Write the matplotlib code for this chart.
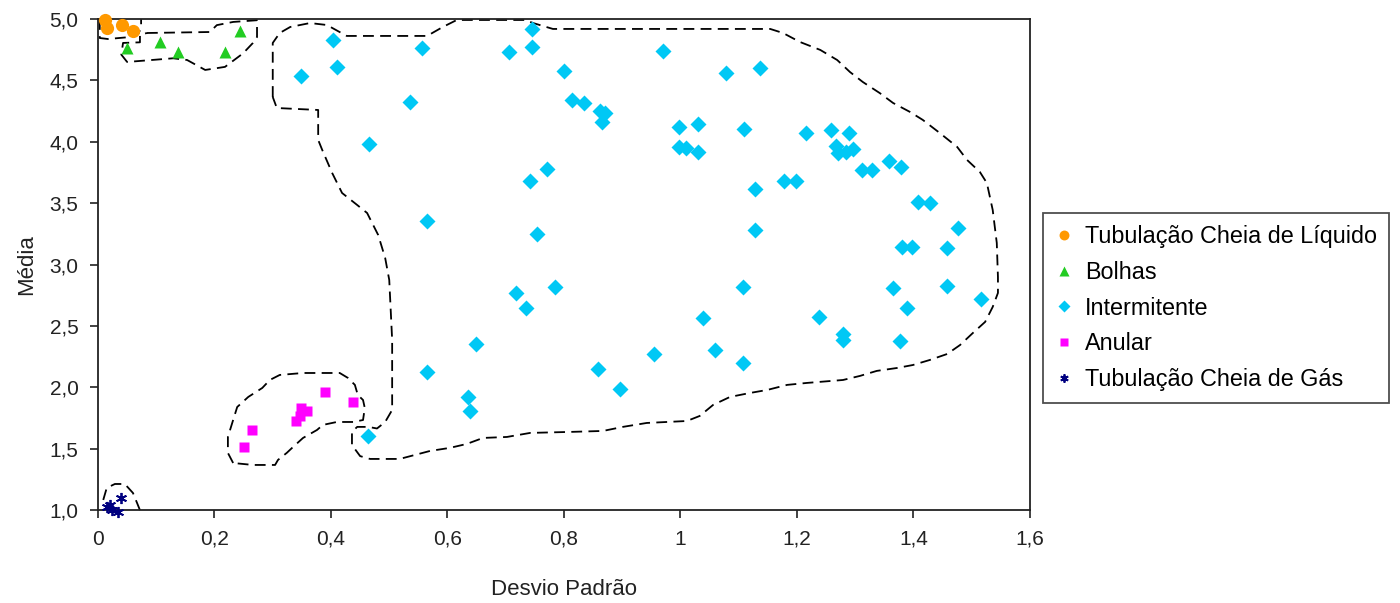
import matplotlib
matplotlib.use("Agg")
import matplotlib.pyplot as plt

plt.rcParams['font.family'] = ['Liberation Sans', 'DejaVu Sans']

# ---------------------------------------------------------------------
# data (desvio padrao, media)
liq_x = [0.012, 0.015, 0.041, 0.060]
liq_y = [4.992, 4.927, 4.951, 4.902]

bolhas_x = [0.050, 0.106, 0.137, 0.218, 0.244]
bolhas_y = [4.764, 4.813, 4.731, 4.731, 4.902]

inter_x = [0.745, 0.745, 0.706, 0.403, 0.410, 0.348, 0.556, 0.536, 0.465, 0.565,
           0.565, 0.800, 0.814, 0.834, 0.862, 0.870, 0.865, 0.970, 1.078, 1.136,
           0.997, 1.030, 0.997, 1.009, 1.030, 1.109, 1.215, 1.258, 1.289, 1.267,
           1.270, 1.284, 1.296, 1.312, 1.329, 1.358, 1.379, 1.178, 1.198, 1.128,
           1.128, 1.408, 1.428, 1.476, 1.380, 1.397, 1.458, 1.107, 1.365, 1.458,
           1.389, 1.516, 1.238, 1.279, 1.279, 1.377, 1.039, 1.059, 1.107, 0.955,
           0.858, 0.896, 0.649, 0.718, 0.735, 0.785, 0.754, 0.742, 0.771, 0.635,
           0.638, 0.464]
inter_y = [4.919, 4.772, 4.731, 4.829, 4.609, 4.536, 4.764, 4.324, 3.982, 3.355,
           2.125, 4.577, 4.340, 4.316, 4.251, 4.235, 4.161, 4.739, 4.560, 4.601,
           4.121, 4.145, 3.958, 3.950, 3.917, 4.104, 4.072, 4.096, 4.072, 3.966,
           3.909, 3.917, 3.941, 3.770, 3.770, 3.844, 3.795, 3.681, 3.681, 3.616,
           3.282, 3.510, 3.502, 3.298, 3.143, 3.143, 3.135, 2.818, 2.809, 2.826,
           2.647, 2.720, 2.573, 2.435, 2.386, 2.378, 2.565, 2.305, 2.199, 2.272,
           2.150, 1.987, 2.353, 2.769, 2.647, 2.818, 3.249, 3.681, 3.779, 1.922,
           1.808, 1.604]

anular_x = [0.251, 0.264, 0.340, 0.347, 0.348, 0.359, 0.390, 0.438]
anular_y = [1.515, 1.653, 1.726, 1.767, 1.832, 1.808, 1.963, 1.881]

gas_x = [0.015, 0.024, 0.034, 0.039, 0.020]
gas_y = [1.026, 1.000, 0.984, 1.098, 1.040]

# hand drawn region boundaries
reg_liq = [(0.003, 5.0), (0.003, 4.845), (0.017, 4.837), (0.055, 4.853),
           (0.069, 4.878), (0.074, 4.927), (0.074, 5.0)]

reg_bolhas = [(0.084, 4.886), (0.192, 4.894), (0.204, 4.95), (0.232, 4.976),
              (0.273, 4.99), (0.273, 4.853), (0.266, 4.805), (0.249, 4.72),
              (0.218, 4.61), (0.184, 4.585), (0.153, 4.666), (0.129, 4.68),
              (0.05, 4.65), (0.04, 4.71), (0.043, 4.805), (0.072, 4.81),
              (0.072, 4.87), (0.084, 4.886)]

reg_inter = [(0.300, 4.365), (0.300, 4.805), (0.312, 4.886), (0.330, 4.935),
             (0.364, 4.967), (0.393, 4.951), (0.427, 4.862), (0.565, 4.862),
             (0.592, 4.935), (0.616, 4.992), (0.733, 4.992), (0.747, 4.967),
             (0.781, 4.919), (1.154, 4.919), (1.176, 4.886), (1.205, 4.813),
             (1.240, 4.748), (1.269, 4.666), (1.291, 4.568), (1.313, 4.487),
             (1.342, 4.397), (1.365, 4.316), (1.394, 4.243), (1.416, 4.178),
             (1.445, 4.072), (1.475, 3.958), (1.492, 3.852), (1.514, 3.754),
             (1.526, 3.664), (1.536, 3.445), (1.543, 3.176), (1.545, 2.899),
             (1.545, 2.769), (1.536, 2.655), (1.523, 2.533), (1.502, 2.443),
             (1.480, 2.345), (1.458, 2.272), (1.428, 2.223), (1.399, 2.182),
             (1.372, 2.158), (1.337, 2.134), (1.308, 2.093), (1.279, 2.060),
             (1.217, 2.036), (1.183, 2.020), (1.149, 1.979), (1.119, 1.954),
             (1.085, 1.922), (1.056, 1.857), (1.033, 1.767), (1.011, 1.726),
             (0.942, 1.710), (0.901, 1.678), (0.867, 1.645), (0.810, 1.637),
             (0.742, 1.629), (0.702, 1.596), (0.661, 1.588), (0.633, 1.539),
             (0.604, 1.507), (0.570, 1.482), (0.518, 1.417), (0.467, 1.417),
             (0.450, 1.440), (0.436, 1.530), (0.436, 1.637), (0.445, 1.678),
             (0.464, 1.678), (0.479, 1.665), (0.493, 1.718), (0.505, 1.816),
             (0.505, 2.386), (0.500, 2.875), (0.493, 3.054), (0.481, 3.241),
             (0.462, 3.420), (0.445, 3.485), (0.419, 3.583), (0.402, 3.746),
             (0.385, 3.933), (0.378, 4.015), (0.378, 4.259), (0.307, 4.275),
             (0.300, 4.365)]

reg_anular = [(0.232, 1.384), (0.223, 1.466), (0.223, 1.596), (0.232, 1.734),
              (0.239, 1.840), (0.258, 1.922), (0.282, 1.995), (0.295, 2.060),
              (0.312, 2.101), (0.352, 2.117), (0.415, 2.117), (0.429, 2.077),
              (0.441, 2.020), (0.446, 1.938), (0.455, 1.897), (0.458, 1.832),
              (0.455, 1.734), (0.438, 1.718), (0.410, 1.718), (0.386, 1.694),
              (0.376, 1.653), (0.352, 1.588), (0.335, 1.515), (0.324, 1.466),
              (0.309, 1.409), (0.304, 1.368), (0.266, 1.368), (0.232, 1.384)]

reg_gas = [(0.009, 1.083), (0.015, 1.181), (0.029, 1.213), (0.046, 1.213),
           (0.060, 1.140), (0.067, 1.059), (0.072, 1.0)]

xticks = [0, 0.2, 0.4, 0.6, 0.8, 1.0, 1.2, 1.4, 1.6]
xtick_labels = ['0', '0,2', '0,4', '0,6', '0,8', '1', '1,2', '1,4', '1,6']
yticks = [1.0, 1.5, 2.0, 2.5, 3.0, 3.5, 4.0, 4.5, 5.0]
ytick_labels = ['1,0', '1,5', '2,0', '2,5', '3,0', '3,5', '4,0', '4,5', '5,0']

# ---------------------------------------------------------------------
fig = plt.figure(figsize=(14, 6.03), dpi=100)
ax = fig.add_axes([0.07, 0.154, 0.6657, 0.8145])

# boundaries
for reg in [reg_liq, reg_bolhas, reg_inter, reg_anular, reg_gas]:
    xs = [p[0] for p in reg]
    ys = [p[1] for p in reg]
    ax.plot(xs, ys, color='black', lw=1.3, ls=(0, (6, 3.5)), zorder=2, clip_on=False)

# series
ax.plot(liq_x, liq_y, 'o', color='#FF9900', ms=9.5, mec='none', zorder=3,
        clip_on=False, label='Tubulação Cheia de Líquido')
ax.plot(bolhas_x, bolhas_y, '^', color='#22CC22', ms=9, mec='none', zorder=3,
        clip_on=False, label='Bolhas')
ax.plot(inter_x, inter_y, 'D', color='#00C8F5', ms=8, mec='none', zorder=3,
        clip_on=False, label='Intermitente')
ax.plot(anular_x, anular_y, 's', color='#FF00FF', ms=7.5, mec='none', zorder=3,
        clip_on=False, label='Anular')
ax.plot(gas_x, gas_y, marker=(6, 2, 0), ls='none', color='#000080', ms=8, mew=1.3,
        zorder=3, clip_on=False, label='Tubulação Cheia de Gás')

ax.set_xlim(0, 1.6)
ax.set_ylim(1.0, 5.0)
ax.set_xticks(xticks)
ax.set_xticklabels(xtick_labels)
ax.set_yticks(yticks)
ax.set_yticklabels(ytick_labels)
ax.tick_params(direction='out', length=6, width=1.2, labelsize=15, pad=8, colors='#222222')
for sp in ax.spines.values():
    sp.set_linewidth(1.3)
    sp.set_color('#222222')

ax.set_xlabel('Desvio Padrão', fontsize=16, labelpad=22, color='#222222')
ax.set_ylabel('Média', fontsize=16, labelpad=9, color='#222222')

leg = fig.legend(loc='center left', bbox_to_anchor=(0.745, 0.489),
                 bbox_transform=fig.transFigure, fontsize=16.8, frameon=True,
                 fancybox=False, markerscale=0.75, handlelength=0.8,
                 handletextpad=0.5, labelspacing=0.55, borderpad=0.5,
                 borderaxespad=0)
leg.get_frame().set_edgecolor('#222222')
leg.get_frame().set_linewidth(1.3)

fig.savefig('out.png', dpi=100)
